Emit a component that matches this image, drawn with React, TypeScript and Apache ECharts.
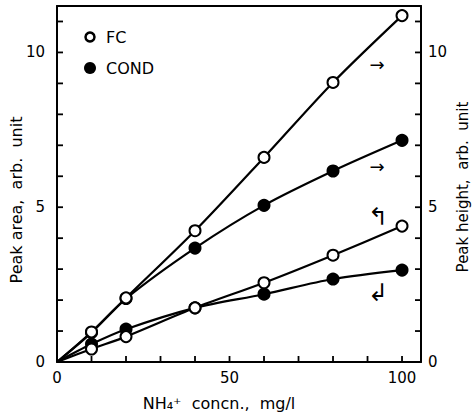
import React, { useEffect, useRef } from "react";
import * as echarts from "echarts";

const concn = [0, 10, 20, 40, 60, 80, 100];
// upper pair -> right axis (peak height)
const fcHeight = [0, 0.97, 2.07, 4.24, 6.61, 9.03, 11.19];
const condHeight = [0, 0.95, 2.05, 3.68, 5.06, 6.17, 7.16];
// lower pair -> left axis (peak area)
const fcArea = [0, 0.42, 0.82, 1.75, 2.56, 3.45, 4.39];
const condArea = [0, 0.58, 1.06, 1.75, 2.19, 2.68, 2.97];
const xLabels = [0, 50, 100];
const yLabels = [0, 5, 10];
const xTicks = [10, 20, 30, 40, 50, 60, 70, 80, 90, 100];
const yTicks = [1, 2, 3, 4, 5, 6, 7, 8, 9, 10, 11];

const X_MAX = 105.5;
const Y_MAX = 11.5;
const FONT = "DejaVu Sans";
const GRID = { left: 57, right: 52, top: 6, bottom: 56 };
const W = 473;
const H = 418;
const TICK = 6;

function mk(vals: number[]) {
  return concn.map((x, i) =>
    i === 0 ? { value: [x, vals[i]], symbol: "none" } : { value: [x, vals[i]] }
  );
}

function lineSeries(name: string, vals: number[], filled: boolean, yAxisIndex: number) {
  return {
    name,
    type: "line",
    yAxisIndex,
    data: mk(vals),
    smooth: 0.3,
    symbol: "circle",
    symbolSize: 11,
    lineStyle: { color: "#000", width: 2.2 },
    itemStyle: { color: filled ? "#000" : "#fff", borderColor: "#000", borderWidth: 2 },
    z: filled ? 3 : 4,
  };
}

function tickSeries(data: number[][], size: number[], offset: number[]) {
  return {
    type: "scatter",
    silent: true,
    clip: false,
    xAxisIndex: 0,
    yAxisIndex: 0,
    data,
    symbol: "rect",
    symbolSize: size,
    symbolOffset: offset,
    itemStyle: { color: "#000", opacity: 1 },
    z: 5,
  };
}

export default function App() {
  const ref = useRef<HTMLDivElement>(null);
  useEffect(() => {
    document.body.style.margin = "0";
    const chart = echarts.init(ref.current!, null, { renderer: "svg" });
    const axisLine = { show: true, onZero: false, lineStyle: { color: "#000", width: 2 } };
    const labelAxisY = (position: "left" | "right", margin: number) => ({
      type: "value",
      position,
      min: 0,
      max: Y_MAX,
      interval: 5,
      axisLine,
      axisTick: { show: false },
      axisLabel: {
        color: "#000",
        fontFamily: FONT,
        fontSize: 15,
        margin,
        formatter: (v: number) => (yLabels.includes(v) ? String(v) : ""),
      },
      splitLine: { show: false },
    });
    chart.setOption({
      animation: false,
      grid: { ...GRID },
      xAxis: [
        {
          type: "value",
          position: "bottom",
          min: 0,
          max: X_MAX,
          interval: 50,
          axisLine,
          axisTick: { show: false },
          axisLabel: {
            color: "#000",
            fontFamily: FONT,
            fontSize: 15,
            margin: 8,
            formatter: (v: number) => (xLabels.includes(v) ? String(v) : ""),
          },
          splitLine: { show: false },
        },
        {
          type: "value",
          position: "top",
          min: 0,
          max: X_MAX,
          axisLine,
          axisTick: { show: false },
          axisLabel: { show: false },
          splitLine: { show: false },
        },
      ],
      yAxis: [labelAxisY("left", 12), labelAxisY("right", 7)],
      series: [
        tickSeries(xTicks.map((v) => [v, 0]), [1.8, TICK], [0, -TICK / 2]),
        tickSeries(yTicks.map((v) => [0, v]), [TICK, 1.8], [TICK / 2, 0]),
        tickSeries(yTicks.map((v) => [X_MAX, v]), [TICK, 1.8], [-TICK / 2, 0]),
        lineSeries("FC", fcHeight, false, 1),
        lineSeries("COND", condHeight, true, 1),
        lineSeries("FC area", fcArea, false, 0),
        lineSeries("COND area", condArea, true, 0),
      ],
      graphic: [
        { type: "circle", shape: { cx: 90, cy: 37, r: 4.5 }, style: { fill: "#fff", stroke: "#000", lineWidth: 2.5 } },
        { type: "text", x: 106, y: 37, style: { text: "FC", font: `16px '${FONT}'`, fill: "#000", verticalAlign: "middle" } },
        { type: "circle", shape: { cx: 90, cy: 68, r: 6 }, style: { fill: "#000" } },
        { type: "text", x: 106, y: 68, style: { text: "COND", font: `16px '${FONT}'`, fill: "#000", verticalAlign: "middle" } },
        { type: "text", x: 377, y: 64, style: { text: "→", font: `18px '${FONT}'`, fill: "#000", align: "center", verticalAlign: "middle" } },
        { type: "text", x: 377, y: 166, style: { text: "→", font: `18px '${FONT}'`, fill: "#000", align: "center", verticalAlign: "middle" } },
        { type: "text", x: 378, y: 217, style: { text: "↰", font: `24px '${FONT}'`, fill: "#000", align: "center", verticalAlign: "middle" } },
        { type: "text", x: 378, y: 293, style: { text: "↲", font: `24px '${FONT}'`, fill: "#000", align: "center", verticalAlign: "middle" } },
        {
          type: "text", x: 16, y: 200, rotation: Math.PI / 2,
          style: { text: "Peak area,  arb.  unit", font: `16px '${FONT}'`, fill: "#000", align: "center", verticalAlign: "middle" },
        },
        {
          type: "text", x: 463, y: 187, rotation: Math.PI / 2,
          style: { text: "Peak height,  arb.  unit", font: `15px '${FONT}'`, fill: "#000", align: "center", verticalAlign: "middle" },
        },
        {
          type: "text", x: 219, y: 403,
          style: { text: "NH₄⁺  concn.,  mg/l", font: `16px '${FONT}'`, fill: "#000", align: "center", verticalAlign: "middle" },
        },
      ],
    });
    return () => chart.dispose();
  }, []);
  return <div ref={ref} style={{ width: W, height: H }} />;
}
